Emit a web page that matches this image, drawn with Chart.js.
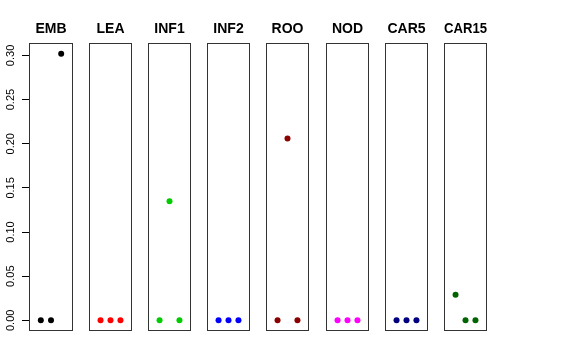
<!DOCTYPE html>
<html>
<head>
<meta charset="utf-8">
<script src="https://cdn.jsdelivr.net/npm/chart.js@4.4.0/dist/chart.umd.min.js"></script>
<style>
  body { margin: 0; background: #fff; }
  #wrap { position: relative; width: 576px; height: 360px; overflow: hidden; background: #fff; }
  #wrap canvas { position: absolute; top: 0; }
</style>
</head>
<body>
<div id="wrap"></div>
<script>
// panel names and point colours
const panels = ['EMB', 'LEA', 'INF1', 'INF2', 'ROO', 'NOD', 'CAR5', 'CAR15'];
const colors = ['#000000', '#ff0000', '#00cd00', '#0000ff', '#8b0000', '#ff00ff', '#000080', '#006400'];

// three points per panel, at x = 1, 2, 3
const xPos = [1, 2, 3];
const EMB = [0, 0, 0.302];
const LEA = [0, 0, 0];
const INF1 = [0, 0.135, 0];
const INF2 = [0, 0, 0];
const ROO = [0, 0.206, 0];
const NOD = [0, 0, 0];
const CAR5 = [0, 0, 0];
const CAR15 = [0.029, 0, 0];
const series = [EMB, LEA, INF1, INF2, ROO, NOD, CAR5, CAR15];

const yTicks = [0, 0.05, 0.10, 0.15, 0.20, 0.25, 0.30];
const yMin = -0.0121, yMax = 0.3141;
const xMin = -0.16, xMax = 4.16;

const font = 'Liberation Sans, Helvetica, Arial, sans-serif';

// draws the frame round each panel
const boxPlugin = {
    id: 'box',
    afterDraw(chart) {
        const { ctx, chartArea: a } = chart;
        ctx.save();
        ctx.strokeStyle = '#333';
        ctx.lineWidth = 1;
        ctx.strokeRect(a.left + 0.5, a.top + 0.5, a.width - 1, a.height - 1);
        ctx.restore();
    }
};

const wrap = document.getElementById('wrap');

panels.forEach((name, i) => {
    const boxLeft = 29 + Math.round(i * 59.1);
    const first = i === 0;
    const canvas = document.createElement('canvas');
    const w = first ? boxLeft + 45 + 2 : 49;
    canvas.width = w;
    canvas.height = 360;
    canvas.style.width = w + 'px';
    canvas.style.height = '360px';
    canvas.style.left = (first ? 0 : boxLeft - 2) + 'px';
    wrap.appendChild(canvas);

    new Chart(canvas.getContext('2d'), {
        type: 'scatter',
        data: {
            datasets: [{
                data: series[i].map((v, k) => ({ x: xPos[k], y: v })),
                backgroundColor: colors[i],
                borderWidth: 0,
                pointRadius: 3,
                pointHoverRadius: 3
            }]
        },
        options: {
            responsive: false,
            animation: false,
            devicePixelRatio: 1,
            layout: { padding: { left: first ? 0 : 2, right: 2, top: 0, bottom: 29 } },
            plugins: {
                legend: { display: false },
                tooltip: { enabled: false },
                title: {
                    display: true,
                    text: name,
                    fullSize: false,
                    color: '#000',
                    font: { family: font, size: 14, weight: 'bold', lineHeight: 1 },
                    padding: { top: 22, bottom: 7 }
                }
            },
            scales: {
                x: { type: 'linear', display: false, min: xMin, max: xMax },
                y: {
                    display: first,
                    min: yMin,
                    max: yMax,
                    afterBuildTicks: s => { s.ticks = yTicks.map(v => ({ value: v })); },
                    afterFit: s => { if (first) s.width = 29; },
                    border: { display: false },
                    grid: { drawOnChartArea: false, tickLength: 7, color: '#000', tickColor: '#000' },
                    ticks: {
                        minRotation: 90,
                        maxRotation: 90,
                        crossAlign: 'center',
                        padding: 0,
                        color: '#000',
                        font: { family: font, size: 11 },
                        callback: v => Number(v).toFixed(2)
                    }
                }
            }
        },
        plugins: [boxPlugin]
    });
});
</script>
</body>
</html>
